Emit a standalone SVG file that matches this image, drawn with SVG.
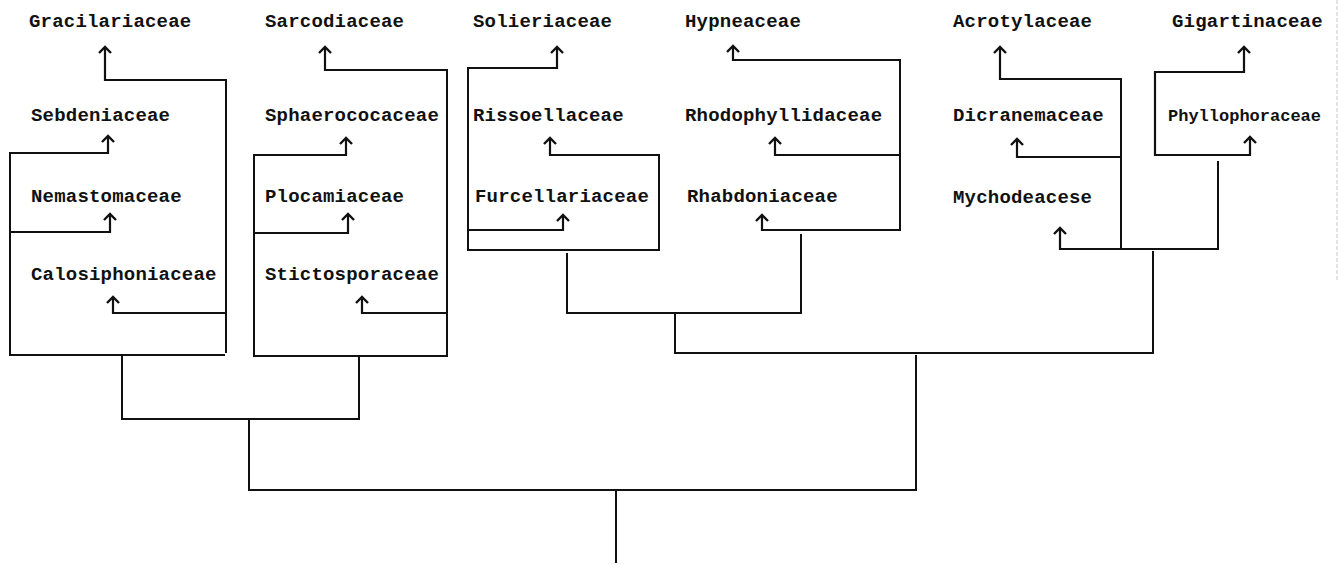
<svg xmlns="http://www.w3.org/2000/svg" width="1338" height="565" viewBox="0 0 1338 565">
<style>
text{font-family:"Liberation Mono","DejaVu Sans Mono",monospace;font-weight:bold;font-size:19px;letter-spacing:0.2px;fill:#111}
.ln{fill:none;stroke:#111;stroke-width:2;stroke-linejoin:miter;stroke-linecap:square}
.ar{fill:none;stroke:#111;stroke-width:2.2;stroke-linejoin:miter;marker-end:url(#chev)}
</style>
<defs>
<marker id="chev" viewBox="-8 -8 16 16" markerWidth="16" markerHeight="16" refX="0" refY="0" markerUnits="userSpaceOnUse" orient="auto" overflow="visible">
<path d="M-6,-6 L0,0 L-6,6" fill="none" stroke="#111" stroke-width="2.4" stroke-linejoin="miter"/>
</marker>
</defs>
<rect width="1338" height="565" fill="#fff"/>
<line x1="1337" y1="0" x2="1337" y2="282" stroke="#c8c8c8" stroke-width="1" stroke-dasharray="4 2"/>
<g id="connectors">
<path class="ln" d="M10,153 V355 H224"/>
<path class="ln" d="M226,80 V352"/>
<path class="ar" d="M226,80 H105 V47"/>
<path class="ar" d="M10,153 H108 V136"/>
<path class="ar" d="M10,232 H110 V214"/>
<path class="ar" d="M226,313 H113 V297"/>
<path class="ln" d="M254,155 V356 H447 V70"/>
<path class="ar" d="M447,70 H325 V47"/>
<path class="ar" d="M254,155 H346 V138"/>
<path class="ar" d="M254,233 H348 V214"/>
<path class="ar" d="M447,313 H362 V297"/>
<path class="ln" d="M468,68 V250 H659 V155"/>
<path class="ar" d="M468,68 H557 V47"/>
<path class="ar" d="M659,155 H550 V138"/>
<path class="ar" d="M468,230 H563 V215"/>
<path class="ln" d="M900,60 V230"/>
<path class="ar" d="M900,60 H733 V46"/>
<path class="ar" d="M900,155 H775 V138"/>
<path class="ar" d="M900,230 H762 V215"/>
<path class="ln" d="M1121,79 V249"/>
<path class="ar" d="M1121,79 H1000 V47"/>
<path class="ar" d="M1121,157 H1017 V139"/>
<path class="ar" d="M1218,249 H1060 V228"/>
<path class="ar" d="M1155,110 V72 H1244 V47"/>
<path class="ar" d="M1155,110 V155 H1250 V137"/>
<path class="ln" d="M1218,162 V249"/>
<path class="ln" d="M567,254 V313 H801 V235"/>
<path class="ln" d="M675,313 V353 H1153 V252"/>
<path class="ln" d="M916,356 V490"/>
<path class="ln" d="M122,357 V419 H359 V357"/>
<path class="ln" d="M249,419 V490 H916"/>
<path class="ln" d="M616,490 V562"/>
</g>
<g id="n-gracilariaceae"><text x="29" y="27">Gracilariaceae</text></g>
<g id="n-sebdeniaceae"><text x="31" y="121">Sebdeniaceae</text></g>
<g id="n-nemastomaceae"><text x="31" y="202">Nemastomaceae</text></g>
<g id="n-calosiphoniaceae"><text x="31" y="280">Calosiphoniaceae</text></g>
<g id="n-sarcodiaceae"><text x="265" y="27">Sarcodiaceae</text></g>
<g id="n-sphaerococaceae"><text x="265" y="121">Sphaerococaceae</text></g>
<g id="n-plocamiaceae"><text x="265" y="202">Plocamiaceae</text></g>
<g id="n-stictosporaceae"><text x="265" y="280">Stictosporaceae</text></g>
<g id="n-solieriaceae"><text x="473" y="27">Solieriaceae</text></g>
<g id="n-rissoellaceae"><text x="473" y="121">Rissoellaceae</text></g>
<g id="n-furcellariaceae"><text x="475" y="202">Furcellariaceae</text></g>
<g id="n-hypneaceae"><text x="685" y="27">Hypneaceae</text></g>
<g id="n-rhodophyllidaceae"><text x="685" y="121">Rhodophyllidaceae</text></g>
<g id="n-rhabdoniaceae"><text x="687" y="202">Rhabdoniaceae</text></g>
<g id="n-acrotylaceae"><text x="953" y="27">Acrotylaceae</text></g>
<g id="n-dicranemaceae"><text x="953" y="121">Dicranemaceae</text></g>
<g id="n-mychodeacese"><text x="953" y="203">Mychodeacese</text></g>
<g id="n-gigartinaceae"><text x="1172" y="27">Gigartinaceae</text></g>
<g id="n-phyllophoraceae"><text x="1168" y="121" style="font-size:17px;letter-spacing:0">Phyllophoraceae</text></g>
</svg>
